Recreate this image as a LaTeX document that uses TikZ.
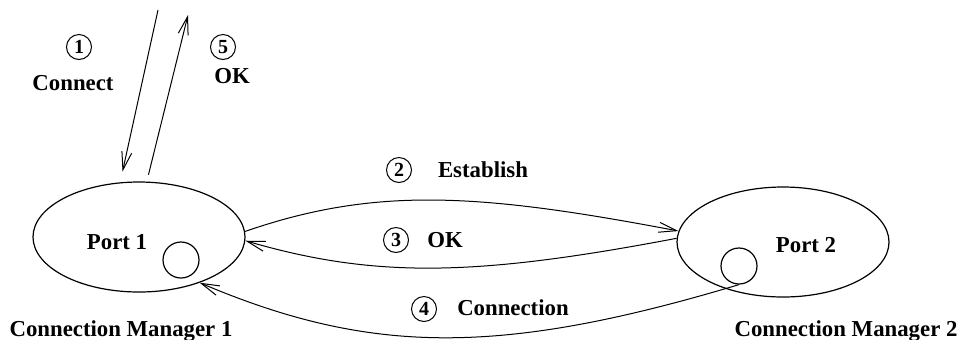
\documentclass[tikz,border=0pt]{standalone}
\usepackage{fontspec}
\setmainfont{Liberation Serif}
\usetikzlibrary{arrows.meta, shapes.geometric}

\begin{document}
\begin{tikzpicture}[x=0.5pt, y=-0.5pt,
    mgr/.style={draw, ellipse, line width=0.6pt, inner sep=0pt,
                minimum width=106pt, minimum height=55pt},
    sock/.style={draw, circle, line width=0.6pt, inner sep=0pt, minimum size=18pt},
    num/.style={draw, circle, line width=0.5pt, inner sep=0pt, minimum size=12.5pt,
                font=\fontsize{10}{11}\selectfont\bfseries},
    lbl/.style={anchor=base, inner sep=0pt, font=\fontsize{11.4}{13}\selectfont\bfseries},
    msg/.style={line width=0.5pt, -{Straight Barb[length=9pt, width=5pt]}},
]
    \useasboundingbox (0,0) rectangle (961,339);

    \node[mgr] (cm1) at (139,237) {};
    \node[mgr] (cm2) at (783,242) {};
    \node[sock] (sock1) at (181,260) {};
    \node[sock] (sock2) at (739,266) {};

    \node[lbl] (port1) at (117,249) {Port 1};
    \node[lbl] (port2) at (806,252) {Port 2};
    \node[lbl] (name1) at (121,336) {Connection Manager 1};
    \node[lbl] (name2) at (846,336) {Connection Manager 2};

    \node[num] (n1) at (79,47) {1};
    \node[lbl] (connect) at (73,90) {Connect};
    \node[num] (n5) at (223,47) {5};
    \node[lbl] (ok5) at (232,83) {OK};
    \node[num] (n2) at (399,170) {2};
    \node[lbl] (establish) at (483,177) {Establish};
    \node[num] (n3) at (396,240) {3};
    \node[lbl] (ok3) at (445,247) {OK};
    \node[num] (n4) at (424,309) {4};
    \node[lbl] (connection) at (513,315) {Connection};

    \coordinate (conntop) at (158,10);
    \coordinate (oktop) at (188,15);

    \draw[msg, shorten >=5.5pt] (conntop) -- (cm1.109);
    \draw[msg, shorten <=3.5pt] (cm1.82) -- (oktop);
    \draw[msg] (cm1.3) .. controls +(130,-45) and +(-200,-38) .. (cm2.174);
    \draw[msg] (cm2.178) .. controls +(-200,38) and +(130,38) .. (cm1.-2);
    \draw[msg] (sock2.south) .. controls +(-240,72) and +(170,72) .. (cm1.-37);
\end{tikzpicture}
\end{document}
